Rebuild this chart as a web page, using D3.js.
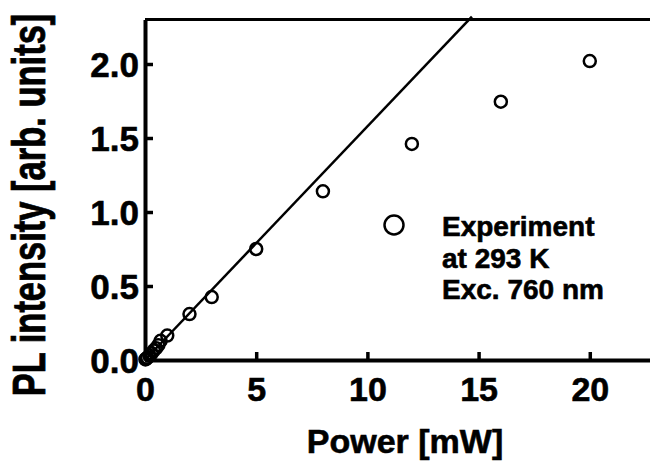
<!DOCTYPE html>
<html>
<head>
<meta charset="utf-8">
<script src="https://cdn.jsdelivr.net/npm/d3@7"></script>
<style>
    body { margin: 0; background: #fff; }
    svg text { font-family: "Liberation Sans", Arial, sans-serif; font-weight: bold; fill: #000;
               stroke: #000; stroke-width: 0.6px; }
</style>
</head>
<body>
<svg id="mysvg"></svg>
<script>
// Data
var power = [0.02, 0.05, 0.1, 0.2, 0.3, 0.4, 0.5, 0.6, 0.7, 1, 2, 3, 5, 8, 12, 16, 20];
var intensity = [0.004, 0.008, 0.015, 0.03, 0.045, 0.065, 0.08, 0.1, 0.13, 0.165, 0.31, 0.425, 0.75, 1.14, 1.46, 1.745, 2.02];
// linear fit, drawn from the origin to just past the top of the frame
var fitPower = [0, 14.7];
var fitIntensity = [0, 2.32];
var xTicks = [0, 5, 10, 15, 20];
var yTicks = [0, 0.5, 1.0, 1.5, 2.0];
var legendLines = ["Experiment", "at 293 K", "Exc. 760 nm"];

var WIDTH = 650, HEIGHT = 464;
var mysvg = d3.select("#mysvg")
    .attr("width", WIDTH)
    .attr("height", HEIGHT);

// Scales ---->
var x = d3.scaleLinear().domain([0, 23]).range([145, 656.5]);
var y = d3.scaleLinear().domain([0, 2.3]).range([360, 19.6]);
// <---- Scales

// Frame: top border (the right side is cut off by the picture)
mysvg.append("line")
    .attr("x1", x(0)).attr("x2", x(23))
    .attr("y1", y(2.3)).attr("y2", y(2.3))
    .attr("stroke", "#000")
    .attr("stroke-width", 3);

// Axes ---->
var yAxis = d3.axisLeft(y)
    .tickValues(yTicks)
    .tickFormat(d3.format(".1f"))
    .tickSizeInner(-8)
    .tickSizeOuter(0)
    .tickPadding(6);

var xAxis = d3.axisBottom(x)
    .tickValues(xTicks)
    .tickFormat(d3.format("d"))
    .tickSizeInner(-8)
    .tickSizeOuter(0)
    .tickPadding(17);

var gy = mysvg.append("g")
    .attr("transform", "translate(" + x(0) + ",0)")
    .call(yAxis);
var gx = mysvg.append("g")
    .attr("transform", "translate(0," + y(0) + ")")
    .call(xAxis);

[gx, gy].forEach(function(g) {
    g.attr("font-family", null).attr("font-size", null);
    g.select(".domain").attr("stroke", "#000").attr("stroke-width", 4);
    g.selectAll(".tick line").attr("stroke", "#000").attr("stroke-width", 3.5);
    g.selectAll(".tick text").attr("fill", "#000").style("font-size", "34px");
});
gy.selectAll(".tick text")
    .attr("dy", "0.36em")
    .style("font-size", "35px");
// <---- Axes

// Axis titles
mysvg.append("text")
    .attr("x", 405)
    .attr("y", 453)
    .attr("text-anchor", "middle")
    .style("font-size", "34px")
    .text("Power [mW]");

mysvg.append("text")
    .attr("transform", "translate(45,205) rotate(-90) scale(1,1.33)")
    .attr("text-anchor", "middle")
    .style("font-size", "34.5px")
    .text("PL intensity [arb. units]");

// Fit line
var fitLine = d3.line()
    .x(function(d, i) { return x(fitPower[i]); })
    .y(function(d, i) { return y(fitIntensity[i]); });

mysvg.append("path")
    .datum(fitPower)
    .attr("d", fitLine)
    .attr("fill", "none")
    .attr("stroke", "#000")
    .attr("stroke-width", 2.5);

// Data points
mysvg.append("g")
    .selectAll("circle")
    .data(power)
    .join("circle")
    .attr("cx", function(d) { return x(d); })
    .attr("cy", function(d, i) { return y(intensity[i]); })
    .attr("r", 6)
    .attr("fill", "none")
    .attr("stroke", "#000")
    .attr("stroke-width", 2.5);

// Legend ---->
mysvg.append("circle")
    .attr("cx", 394)
    .attr("cy", 225)
    .attr("r", 9.5)
    .attr("fill", "none")
    .attr("stroke", "#000")
    .attr("stroke-width", 2.5);

mysvg.append("g")
    .selectAll("text")
    .data(legendLines)
    .join("text")
    .attr("x", 442)
    .attr("y", function(d, i) { return i == 0 ? 236 : 268 + (i - 1) * 31; })
    .style("font-size", "28px")
    .text(function(d) { return d; });
// <---- Legend
</script>
</body>
</html>
